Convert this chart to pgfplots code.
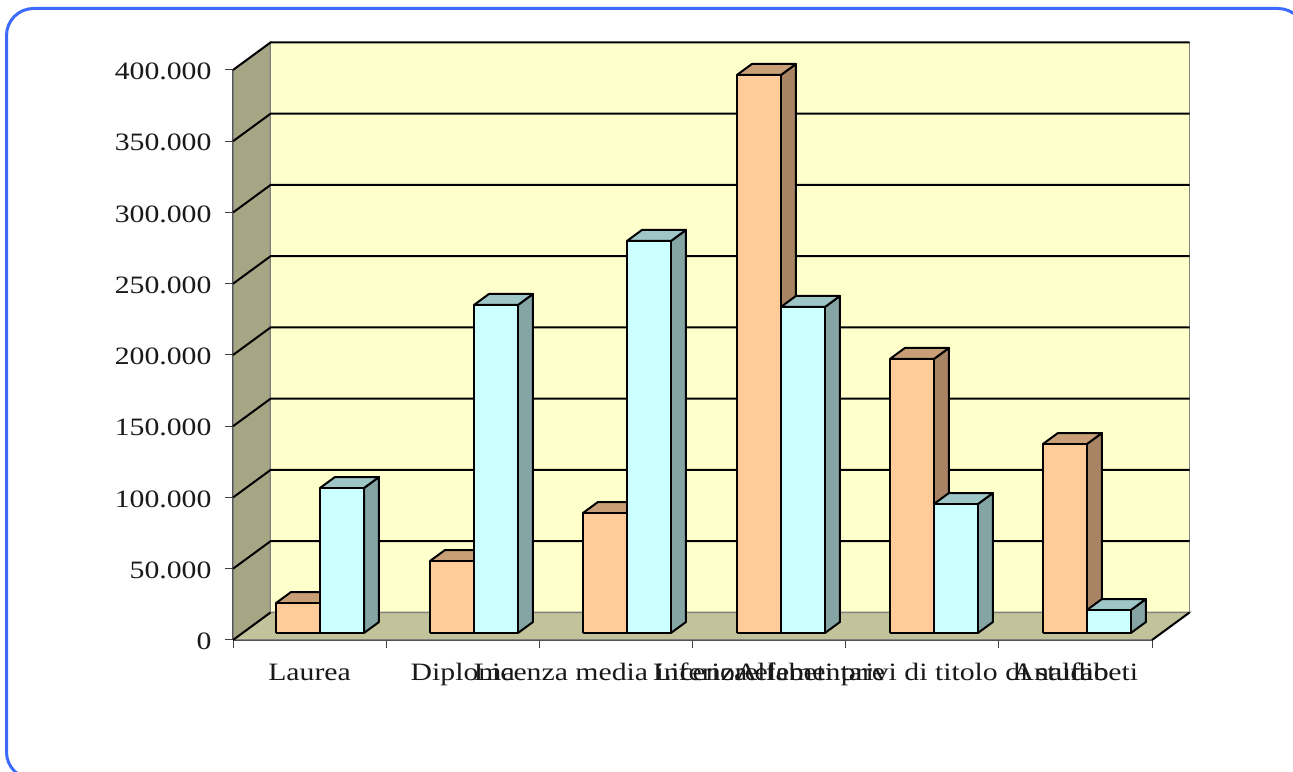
\documentclass[border=0pt]{standalone}
\usepackage{fontspec}
\setmainfont[FakeStretch=1.19]{Liberation Serif}
\usepackage{pgfplots}
\pgfplotsset{compat=1.18}
\definecolor{wallback}{HTML}{FFFFCC}
\definecolor{wallside}{HTML}{A6A684}
\definecolor{wallfloor}{HTML}{C2C29B}
\definecolor{framecol}{HTML}{3E6BFF}
\definecolor{ofront}{HTML}{FFCC99}
\definecolor{otop}{HTML}{C99F78}
\definecolor{oside}{HTML}{A88465}
\definecolor{bfront}{HTML}{CCFFFF}
\definecolor{btop}{HTML}{9FC6C6}
\definecolor{bside}{HTML}{85A5A5}
% x0, front top, back top, front, top, side
\newcommand{\tdbar}[6]{%
  \pgfmathsetmacro{\xa}{#1}%
  \pgfmathsetmacro{\xb}{#1+0.2873}%
  \pgfmathsetmacro{\xc}{#1+0.0979}%
  \pgfmathsetmacro{\xd}{#1+0.3852}%
  \addplot[draw=black,line width=2pt,line join=round,fill=#6,forget plot] coordinates {(\xb,4912)(\xd,12631)(\xd,#3)(\xb,#2)(\xb,4912)};
  \addplot[draw=black,line width=2pt,line join=round,fill=#5,forget plot] coordinates {(\xa,#2)(\xc,#3)(\xd,#3)(\xb,#2)(\xa,#2)};
  \addplot[draw=black,line width=2pt,line join=round,fill=#4,forget plot] coordinates {(\xa,4912)(\xa,#2)(\xb,#2)(\xb,4912)(\xa,4912)};
}
\begin{document}
\begin{tikzpicture}[x=1pt,y=1pt]
\useasboundingbox (0,0) rectangle (1293,771);
\fill[white] (0,0) rectangle (1293,771);
\draw[framecol,line width=3pt,rounded corners=27pt] (6.5,-8) rectangle (1305,762.5);
\begin{axis}[
  at={(233pt,131pt)},anchor=south west,
  scale only axis,width=919pt,height=570pt,
  xmin=0,xmax=6,ymin=0,ymax=400000,
  clip=false,
  axis x line*=bottom,axis y line*=left,
  axis line style={-,black,line width=2pt},
  xtick={0,1,2,3,4,5,6},
  x tick label as interval=true,
  xticklabels={Laurea,Diploma,Licenza media inferiore,Licenza elementare,Alfabeti privi di titolo di studio,Analfabeti},
  ytick={0,50000,100000,150000,200000,250000,300000,350000,400000},
  scaled y ticks=false,
  /pgf/number format/assume math mode=true,
  /pgf/number format/fixed,
  /pgf/number format/1000 sep={.},
  ticklabel style={font=\fontsize{25}{28}\selectfont,text=black!90},
  tick style={black!75,line width=1pt},
  major tick length=8pt,
  tick align=outside,
  xticklabel style={yshift=-11pt,text height=18pt,text depth=6pt},
  yticklabel style={xshift=-10pt,yshift=-1.5pt},
]
% side wall, back wall, floor
\addplot[draw=black!50,line width=1.5pt,fill=wallside,forget plot] coordinates {(0,0)(0.2448,19298)(0.2448,419298)(0,400000)(0,0)};
\addplot[draw=black!50,line width=1.5pt,fill=wallback,forget plot] coordinates {(0.2448,19298)(6.2448,19298)(6.2448,419298)(0.2448,419298)(0.2448,19298)};
\addplot[draw=black!50,line width=1.5pt,fill=wallfloor,forget plot] coordinates {(0,0)(6,0)(6.2448,19298)(0.2448,19298)(0,0)};
\addplot[draw=black,line width=2pt,forget plot] coordinates {(6,0)(6.2448,19298)};
\addplot[draw=black,line width=2pt,forget plot] coordinates {(0,0)(0.2448,19298)};
% grid lines
\addplot[draw=black,line width=2pt,forget plot] coordinates {(0,50000)(0.2448,69298)(6.2448,69298)};
\addplot[draw=black,line width=2pt,forget plot] coordinates {(0,100000)(0.2448,119298)(6.2448,119298)};
\addplot[draw=black,line width=2pt,forget plot] coordinates {(0,150000)(0.2448,169298)(6.2448,169298)};
\addplot[draw=black,line width=2pt,forget plot] coordinates {(0,200000)(0.2448,219298)(6.2448,219298)};
\addplot[draw=black,line width=2pt,forget plot] coordinates {(0,250000)(0.2448,269298)(6.2448,269298)};
\addplot[draw=black,line width=2pt,forget plot] coordinates {(0,300000)(0.2448,319298)(6.2448,319298)};
\addplot[draw=black,line width=2pt,forget plot] coordinates {(0,350000)(0.2448,369298)(6.2448,369298)};
\addplot[draw=black,line width=2pt,forget plot] coordinates {(0,400000)(0.2448,419298)(6.2448,419298)};
% bars (values + offset of the bar base above the floor edge)
\tdbar{0.2807}{25912}{33631}{ofront}{otop}{oside}
\tdbar{0.5680}{106662}{114381}{bfront}{btop}{bside}
\tdbar{1.2860}{55412}{63131}{ofront}{otop}{oside}
\tdbar{1.5733}{235112}{242831}{bfront}{btop}{bside}
\tdbar{2.2847}{89112}{96831}{ofront}{otop}{oside}
\tdbar{2.5720}{280012}{287731}{bfront}{btop}{bside}
\tdbar{3.2901}{396512}{404231}{ofront}{otop}{oside}
\tdbar{3.5774}{233712}{241431}{bfront}{btop}{bside}
\tdbar{4.2888}{197212}{204931}{ofront}{otop}{oside}
\tdbar{4.5761}{95412}{103131}{bfront}{btop}{bside}
\tdbar{5.2875}{137512}{145231}{ofront}{otop}{oside}
\tdbar{5.5748}{21012}{28731}{bfront}{btop}{bside}
\end{axis}
\end{tikzpicture}
\end{document}
